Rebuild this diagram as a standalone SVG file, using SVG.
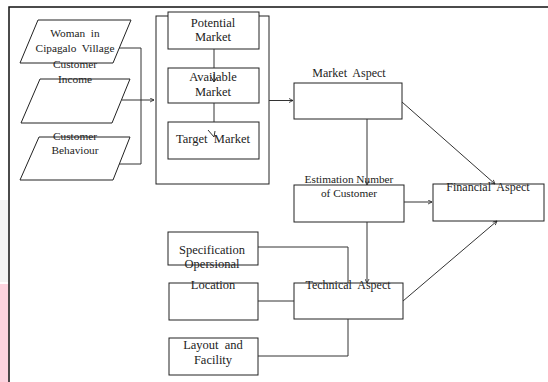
<svg xmlns="http://www.w3.org/2000/svg" width="548" height="382" viewBox="0 0 548 382">
<style>
.s{fill:#fff;stroke:#222;stroke-width:1}
.o{fill:none;stroke:#222;stroke-width:1}
.c{fill:none;stroke:#333;stroke-width:1}
.t{font-family:"Liberation Serif","Times New Roman",serif;fill:#222;text-anchor:middle;white-space:pre}
.b{font-size:12.5px}
.p{font-size:11.3px}
.h{font-size:12px}
</style>
<defs>
<marker id="ar" viewBox="0 0 10 10" refX="9" refY="5" markerWidth="5" markerHeight="5" orient="auto" markerUnits="userSpaceOnUse">
<path d="M1,1 L9,5 L1,9" fill="none" stroke="#222" stroke-width="1.6"/>
</marker>
</defs>
<rect width="548" height="382" fill="#fff"/>
<rect x="0" y="200" width="8.5" height="82" fill="#f4f4f4"/>
<rect x="0" y="284" width="8.5" height="98" fill="#fdd4df"/>
<g id="frame">
<path d="M9,382 V7 H548" fill="none" stroke="#111" stroke-width="1.5"/>
</g>
<g id="woman">
<polygon class="s" points="38,20 131,20 113,63 20,63"/>
<text class="t p" x="75" y="37">Woman  in</text>
<text class="t p" x="75" y="52">Cipagalo  Village</text>
</g>
<g id="income">
<polygon class="s" points="40,79 130,79 112,123 21,123"/>
<text class="t p" x="75" y="68">Customer</text>
<text class="t p" x="75" y="83">Income</text>
</g>
<g id="behaviour">
<polygon class="s" points="39,137 130,137 113,180 20,180"/>
<text class="t p" x="75" y="140">Customer</text>
<text class="t p" x="75" y="154">Behaviour</text>
</g>
<g id="market-group">
<rect class="o" x="156" y="16" width="113" height="168"/>
</g>
<g id="potential">
<rect class="s" x="168" y="12" width="91" height="37"/>
<text class="t b" x="213" y="27">Potential</text>
<text class="t b" x="213" y="41">Market</text>
</g>
<g id="available">
<rect class="s" x="168" y="68" width="91" height="35"/>
<text class="t b" x="213" y="81">Available</text>
<text class="t b" x="213" y="96">Market</text>
</g>
<g id="target">
<rect class="s" x="168" y="122" width="91" height="37"/>
<text class="t b" x="213" y="143">Target  Market</text>
</g>
<g id="market-aspect">
<rect class="s" x="294" y="83" width="108" height="36"/>
<text class="t h" x="349" y="77">Market  Aspect</text>
</g>
<g id="estimation">
<rect class="s" x="294" y="185" width="110" height="37"/>
<text class="t p" x="349" y="183">Estimation Number</text>
<text class="t p" x="349" y="197">of Customer</text>
</g>
<g id="financial">
<rect class="s" x="433" y="184" width="111" height="37"/>
<text class="t h" x="488" y="191">Financial  Aspect</text>
</g>
<g id="specification">
<rect class="s" x="168" y="232" width="90" height="33"/>
<text class="t b" x="212" y="254">Specification</text>
<text class="t b" x="212" y="268">Opersional</text>
</g>
<g id="location">
<rect class="s" x="169" y="283" width="89" height="37"/>
<text class="t b" x="213" y="289">Location</text>
</g>
<g id="technical">
<rect class="s" x="294" y="283" width="109" height="36"/>
<text class="t h" x="348" y="289">Technical  Aspect</text>
</g>
<g id="layout">
<rect class="s" x="169" y="338" width="89" height="37"/>
<text class="t b" x="213" y="349">Layout  and</text>
<text class="t b" x="213" y="364">Facility</text>
</g>
<g id="connectors">
<path class="c" d="M119,48 H141 V164 H119"/>
<path class="c" d="M122,100 H154" marker-end="url(#ar)"/>
<path class="c" d="M214,49 V68"/>
<path class="c" d="M214,103 V122"/>
<path class="c" d="M269,100.5 H293" marker-end="url(#ar)"/>
<path class="c" d="M367,119 V185" marker-end="url(#ar)"/>
<path class="c" d="M402,102 L495,184" marker-end="url(#ar)"/>
<path class="c" d="M404,202 H432" marker-end="url(#ar)"/>
<path class="c" d="M367,222 V283" marker-end="url(#ar)"/>
<path class="c" d="M403,301 L497,221" marker-end="url(#ar)"/>
<path class="c" d="M258,247 H348 V283"/>
<path class="c" d="M258,301 H294"/>
<path class="c" d="M258,356 H348 V319"/>
<path class="c" d="M211,77 L214,82 L217,77 M214,74 V82"/>
<path class="c" d="M208,130 L214,137 L215,131"/>
</g>
</svg>
